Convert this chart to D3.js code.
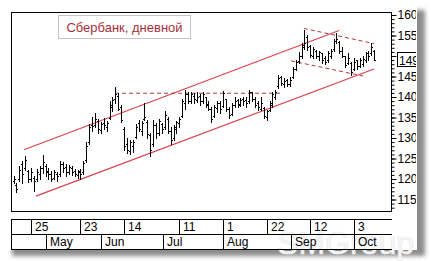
<!DOCTYPE html>
<html>
<head>
<meta charset="utf-8">
<script src="https://cdn.jsdelivr.net/npm/d3@7"></script>
<style>
  body { margin: 0; background: #fff; }
  svg { display: block; }
  text { font-family: "Liberation Sans", Arial, sans-serif; }
</style>
</head>
<body>
<svg id="chart" width="431" height="261"></svg>
<script>
// daily OHLC, trading days mid-April .. mid-October
const open = [119.5, 118.5, 119.8, 123.5, 122.5, 121.8, 120, 120.2, 119.8, 121.2,
  122.5, 123, 121.8, 121.2, 120.2, 121.2, 121, 123.5, 122.8, 121.5,
  122.5, 121.8, 120.8, 121.8, 121.5, 124.5, 128.8, 133, 133, 134,
  131.8, 133.5, 132.5, 134.8, 137.5, 139.5, 140.2, 137.5, 132, 128.5,
  126.8, 128, 130.2, 133.5, 131.5, 134.5, 133.8, 130.5, 128.5, 133,
  131, 133.2, 132.5, 134.5, 131.5, 129.8, 132, 133.5, 135.2, 138.5,
  140.5, 139, 140.2, 139.2, 140.2, 138.8, 140, 138.2, 137, 135.2,
  137.2, 138.5, 137.8, 139.5, 137, 135.8, 138, 139.2, 138.2, 139.4,
  139.2, 138.8, 141, 139.5, 138.5, 137, 137.2, 135, 136.8, 138,
  140, 142.5, 144.8, 143, 144, 143, 144.8, 146.8, 148.6, 149.8,
  152, 154.5, 152.2, 150, 151.2, 149.8, 150.5, 149.5, 148.8, 150,
  151.5, 153.5, 153.2, 151.2, 149.8, 148.2, 148.2, 146.8, 148.8, 147.5,
  148, 148.8, 150.5, 150.5, 151.2];
const high = [120.5, 118.8, 123, 124.3, 125.6, 122, 122.5, 120.5, 122.4, 123,
  125.8, 123.6, 122.5, 121.8, 122, 121.5, 124.3, 124, 123.6, 123.3,
  123, 122.4, 122, 122.4, 124.3, 128.8, 133.4, 135, 135.9, 134.5,
  133.8, 134.7, 134, 139, 140, 142.3, 140.8, 138, 132.5, 130,
  129.3, 129.5, 133.4, 134.2, 134, 138.4, 134.2, 131, 134.2, 133.5,
  134.5, 133.5, 136.5, 135, 132.5, 133, 134, 135, 139.5, 141.6,
  141.2, 141, 140.8, 141, 140.6, 141, 140, 139, 137.4, 138,
  139, 138.8, 141.4, 139.5, 137.4, 138.5, 139.8, 139.5, 139.6, 140,
  139.8, 141.6, 141.2, 139.8, 139, 139.8, 137.4, 136.8, 139, 141,
  141.5, 145.2, 145, 144.5, 144.3, 144.8, 147.2, 149, 150.9, 153,
  156.3, 155, 152.6, 152, 151.4, 151.2, 150.6, 150, 151, 151.5,
  154, 155.6, 153.5, 152, 150, 150.5, 148.5, 149.4, 149, 149.5,
  149.8, 150.9, 151, 153, 151.4];
const low = [119, 116.8, 119.5, 119, 122, 119.2, 119.5, 117, 119.4, 120,
  121.4, 120.7, 120, 119.4, 119.8, 119.4, 120.7, 121.5, 120.7, 121,
  120.8, 120.5, 120.2, 120, 121, 124, 128.5, 131.5, 132.5, 131.2,
  131, 132, 131.5, 134.5, 136.5, 138.4, 136.6, 133.7, 127, 126.3,
  126, 126.5, 130, 131.7, 130.5, 134.2, 130, 125.6, 128, 130,
  130.5, 131, 132, 131, 128.5, 129.5, 131, 132.5, 135, 137,
  138.4, 138.5, 138.4, 138.6, 138, 138.4, 137.4, 136.6, 133.7, 135,
  136.2, 136, 137.4, 136.5, 134.7, 135.5, 137.4, 137.5, 137.8, 138,
  137.5, 138.4, 139, 137.4, 136.6, 136.8, 134.7, 134.2, 136.5, 137.4,
  139.5, 142, 142.8, 142.3, 142.5, 142.6, 144.5, 146.5, 148.2, 149.5,
  151.5, 151.4, 149.7, 149.5, 149.5, 149, 148.2, 148, 148.5, 149.5,
  151, 153, 150.5, 149.7, 147.2, 148, 145.2, 146.5, 146.8, 147.2,
  147.5, 148.4, 148.8, 150.2, 149];
const close = [120, 117.5, 122, 121, 124.5, 120, 121.5, 119.5, 121.5, 122.5,
  124, 121.5, 121, 120, 121.5, 120.5, 123.5, 122.5, 121.5, 122.8,
  121.5, 121.2, 121.5, 121, 123.8, 128, 132.5, 132.8, 134.5, 132,
  133.2, 133, 133.5, 138, 139.2, 140.5, 137, 134.2, 128, 127,
  128.8, 129, 132.5, 132, 133.5, 135, 130.8, 127, 133, 131,
  134, 132, 135.5, 131.5, 129.5, 132.5, 133.8, 134.5, 139, 140.5,
  139, 140.5, 139.5, 140, 138.8, 140.6, 138, 137, 134.5, 137.5,
  138.5, 137, 140.8, 137, 135.5, 138, 139, 138, 139.2, 139,
  138.5, 141, 139.5, 138, 137.5, 138.5, 135.2, 136.5, 138.5, 140.5,
  141, 144.5, 143.3, 143.8, 143, 144, 146.8, 148.5, 149.8, 152.5,
  153, 152, 150.2, 151.5, 150, 150.8, 149, 148.5, 150.5, 151,
  153.5, 154, 151, 150, 147.8, 149.5, 146, 148.5, 147.5, 149,
  149.2, 150.5, 150, 152, 149];

// date scale labels (bar index where they start)
const dayTicks = [6, 23, 38, 57, 72, 87, 102, 117];
const dayLabels = ["25", "23", "14", "11", "1", "22", "12", "3"];
const monthTicks = [11.2, 30.1, 51.4, 72, 95.4, 117];
const monthLabels = ["May", "Jun", "Jul", "Aug", "Sep", "Oct"];

const priceTicks = [115, 120, 125, 130, 135, 140, 145, 150, 155, 160];
const lastPrice = 149;

// hand-drawn trend lines: [bar index, price]
const channelTop = [[3.6, 127.0], [111.9, 156.1]];
const channelBottom = [[7.7, 115.7], [123.9, 146.7]];
const resistance = [[34.9, 140.8], [92.6, 140.8]];
const flagTop = [[99.8, 156.6], [123.9, 152.9]];
const flagBottom = [[95.4, 148.7], [120.1, 145.0]];

const title = "Сбербанк, дневной";

const svg = d3.select('#chart');
const plot = { left: 11, top: 12, right: 392, bottom: 212 };

const x = d3.scaleLinear().domain([0, 124]).range([13.5, 374.3]);
const y = d3.scaleLinear().domain([115, 160]).range([199, 14.5]);

// drop shadow + panel
const defs = svg.append('defs');
defs.append('filter').attr('id', 'blur')
  .append('feGaussianBlur').attr('stdDeviation', 2);
defs.append('clipPath').attr('id', 'plotClip')
  .append('rect').attr('x', plot.left).attr('y', plot.top)
  .attr('width', plot.right - plot.left).attr('height', plot.bottom - plot.top);
defs.append('clipPath').attr('id', 'axisClip')
  .append('rect').attr('x', plot.right).attr('y', 0).attr('width', 24).attr('height', 261);

svg.append('rect').attr('x', 12).attr('y', 10).attr('width', 413).attr('height', 246)
  .attr('fill', '#8c8c8c').attr('filter', 'url(#blur)');
svg.append('rect').attr('x', 0).attr('y', 0).attr('width', 417).attr('height', 250)
  .attr('fill', '#fff');

// watermark
svg.append('text').attr('x', 414).attr('y', 254).attr('text-anchor', 'end')
  .attr('font-size', 32).attr('fill', '#f7f7f7').attr('stroke', '#ebebeb')
  .attr('stroke-width', 0.7).text('SMGroup');

// title box
svg.append('rect').attr('x', 58.5).attr('y', 15.5).attr('width', 132).attr('height', 23)
  .attr('fill', '#fff').attr('stroke', '#c4c4c4');
svg.append('text').attr('x', 124.5).attr('y', 31.5).attr('text-anchor', 'middle')
  .attr('font-size', 13).attr('fill', '#a8303a').text(title);

// trend lines
const line = d3.line().x(d => x(d[0])).y(d => y(d[1]));
const lines = svg.append('g').attr('clip-path', 'url(#plotClip)').attr('fill', 'none');
[channelTop, channelBottom].forEach(pts => {
  lines.append('path').attr('d', line(pts)).attr('stroke', '#d8404c').attr('stroke-width', 1.1);
});
[resistance, flagTop, flagBottom].forEach(pts => {
  lines.append('path').attr('d', line(pts)).attr('stroke', '#a83a3e')
    .attr('stroke-width', 1).attr('stroke-dasharray', '4,3');
});

// OHLC bars
const idx = d3.range(close.length);
const bars = svg.append('g').attr('clip-path', 'url(#plotClip)').attr('fill', '#000');
idx.forEach(i => {
  const cx = Math.round(x(i));
  const yh = Math.round(y(high[i]));
  const yl = Math.round(y(low[i]));
  bars.append('rect').attr('x', cx).attr('y', yh).attr('width', 1).attr('height', Math.max(1, yl - yh + 1));
  bars.append('rect').attr('x', cx - 1).attr('y', Math.round(y(open[i]))).attr('width', 1).attr('height', 1);
  bars.append('rect').attr('x', cx + 1).attr('y', Math.round(y(close[i]))).attr('width', 1).attr('height', 1);
});

// plot frame
svg.append('rect').attr('x', plot.left + 0.5).attr('y', plot.top + 0.5)
  .attr('width', plot.right - plot.left - 1).attr('height', plot.bottom - plot.top - 1)
  .attr('fill', 'none').attr('stroke', '#000');

// price axis (right)
const axisG = svg.append('g').attr('clip-path', 'url(#axisClip)');
const minorTicks = d3.range(113, 161);
axisG.append('g').attr('transform', `translate(${plot.right - 0.5},0.5)`)
  .call(d3.axisRight(y).tickValues(minorTicks).tickSize(3).tickFormat(''))
  .call(g => g.select('.domain').remove());
const major = axisG.append('g').attr('transform', `translate(${plot.right - 0.5},0.5)`)
  .call(d3.axisRight(y).tickValues(priceTicks).tickSize(5).tickPadding(1)
    .tickFormat(d => d === 150 ? '' : d))
  .call(g => g.select('.domain').remove());
major.selectAll('text').attr('font-size', 12).attr('fill', '#000')
  .attr('font-family', '"Liberation Sans", Arial, sans-serif');
major.selectAll('line').attr('stroke', '#000');

// last price marker
const ly = Math.round(y(lastPrice));
axisG.append('rect').attr('x', 397.5).attr('y', ly - 7.5).attr('width', 30).attr('height', 14)
  .attr('fill', '#fff').attr('stroke', '#000');
axisG.append('text').attr('x', 399).attr('y', ly + 4.5).attr('font-size', 12).text(lastPrice);

// date bands
const band = svg.append('g').attr('stroke', '#000').attr('shape-rendering', 'crispEdges');
[219.5, 234.5, 249.5].forEach(yy => {
  band.append('line').attr('x1', plot.left).attr('x2', plot.right).attr('y1', yy).attr('y2', yy);
});
band.append('line').attr('x1', plot.left + 0.5).attr('x2', plot.left + 0.5).attr('y1', 219.5).attr('y2', 249.5);

dayTicks.forEach((t, k) => {
  const xx = Math.round(x(t)) + 0.5;
  band.append('line').attr('x1', xx).attr('x2', xx).attr('y1', 219.5).attr('y2', 234.5);
  svg.append('text').attr('x', xx + 3.5).attr('y', 231).attr('font-size', 12).text(dayLabels[k]);
});
monthTicks.forEach((t, k) => {
  const xx = Math.round(x(t)) + 0.5;
  band.append('line').attr('x1', xx).attr('x2', xx).attr('y1', 234.5).attr('y2', 249.5);
  svg.append('text').attr('x', xx + 3.5).attr('y', 246).attr('font-size', 12).text(monthLabels[k]);
});
</script>
</body>
</html>
